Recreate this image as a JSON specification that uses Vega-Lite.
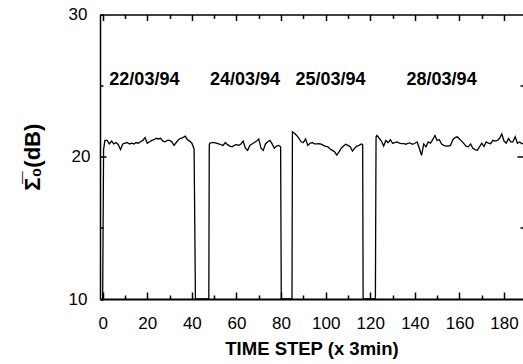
{
  "$schema": "https://vega.github.io/schema/vega-lite/v6.json",
  "width": 423,
  "height": 284.5,
  "autosize": "none",
  "padding": {"left": 100, "right": 0, "top": 14.5, "bottom": 65},
  "background": "white",
  "config": {
    "view": {"stroke": null},
    "font": "Liberation Sans",
    "axis": {"grid": false, "domainColor": "black", "tickColor": "black", "labelColor": "black", "titleColor": "black", "labelFont": "Liberation Sans", "titleFont": "Liberation Sans"}
  },
  "datasets": {
    "series": [
      {"t": 0, "v": 10}, {"t": 0.4, "v": 20.5}, {"t": 1, "v": 21.15}, {"t": 2, "v": 21.15}, {"t": 3, "v": 20.9}, {"t": 4, "v": 21.1}, {"t": 5, "v": 20.9}, {"t": 6, "v": 21.0}, {"t": 7, "v": 20.85}, {"t": 8, "v": 20.5}, {"t": 9, "v": 20.9}, {"t": 10, "v": 20.95}, {"t": 11, "v": 21.0}, {"t": 12, "v": 20.9}, {"t": 13, "v": 20.95}, {"t": 14, "v": 20.9}, {"t": 15, "v": 21.0}, {"t": 16, "v": 20.95}, {"t": 17, "v": 21.05}, {"t": 18, "v": 21.15}, {"t": 19, "v": 21.35}, {"t": 20, "v": 20.95}, {"t": 21, "v": 21.05}, {"t": 22, "v": 21.15}, {"t": 23, "v": 21.2}, {"t": 24, "v": 21.3}, {"t": 25, "v": 21.25}, {"t": 26, "v": 21.3}, {"t": 27, "v": 21.1}, {"t": 28, "v": 21.05}, {"t": 29, "v": 21.15}, {"t": 30, "v": 21.15}, {"t": 31, "v": 21.05}, {"t": 32, "v": 20.8}, {"t": 33, "v": 21.0}, {"t": 34, "v": 21.2}, {"t": 35, "v": 21.3}, {"t": 36, "v": 21.35}, {"t": 37, "v": 21.45}, {"t": 38, "v": 21.2}, {"t": 39, "v": 21.1}, {"t": 40, "v": 20.95}, {"t": 41, "v": 20.55}, {"t": 41.6, "v": 10},
      {"t": 47.6, "v": 10}, {"t": 47.8, "v": 20.8}, {"t": 48, "v": 20.95}, {"t": 49, "v": 21.0}, {"t": 50, "v": 21.0}, {"t": 51, "v": 20.95}, {"t": 52, "v": 20.9}, {"t": 53, "v": 20.85}, {"t": 54, "v": 20.8}, {"t": 55, "v": 21.0}, {"t": 56, "v": 20.85}, {"t": 57, "v": 20.75}, {"t": 58, "v": 20.7}, {"t": 59, "v": 20.8}, {"t": 60, "v": 20.85}, {"t": 61, "v": 20.8}, {"t": 62, "v": 20.9}, {"t": 63, "v": 21.1}, {"t": 64, "v": 20.6}, {"t": 65, "v": 20.45}, {"t": 66, "v": 20.8}, {"t": 67, "v": 20.9}, {"t": 68, "v": 21.0}, {"t": 69, "v": 21.1}, {"t": 70, "v": 21.25}, {"t": 71, "v": 20.6}, {"t": 72, "v": 20.45}, {"t": 73, "v": 20.9}, {"t": 74, "v": 21.05}, {"t": 75, "v": 21.15}, {"t": 76, "v": 20.9}, {"t": 77, "v": 20.6}, {"t": 78, "v": 20.75}, {"t": 79, "v": 20.8}, {"t": 79.8, "v": 20.7}, {"t": 80.1, "v": 10},
      {"t": 84.9, "v": 10}, {"t": 85.1, "v": 21.75}, {"t": 86, "v": 21.65}, {"t": 87, "v": 21.5}, {"t": 88, "v": 21.3}, {"t": 89, "v": 21.05}, {"t": 90, "v": 21.0}, {"t": 91, "v": 21.25}, {"t": 92, "v": 20.8}, {"t": 93, "v": 20.95}, {"t": 94, "v": 21.0}, {"t": 95, "v": 20.9}, {"t": 96, "v": 20.9}, {"t": 97, "v": 20.92}, {"t": 98, "v": 20.88}, {"t": 99, "v": 20.8}, {"t": 100, "v": 20.73}, {"t": 101, "v": 20.7}, {"t": 102, "v": 20.55}, {"t": 103, "v": 20.45}, {"t": 104, "v": 20.35}, {"t": 105, "v": 20.12}, {"t": 106, "v": 20.35}, {"t": 107, "v": 20.6}, {"t": 108, "v": 20.75}, {"t": 109, "v": 20.88}, {"t": 110, "v": 20.8}, {"t": 111, "v": 20.7}, {"t": 112, "v": 20.4}, {"t": 113, "v": 20.6}, {"t": 114, "v": 20.75}, {"t": 115, "v": 20.8}, {"t": 116, "v": 20.9}, {"t": 116.6, "v": 20.85}, {"t": 116.8, "v": 10},
      {"t": 122.3, "v": 10}, {"t": 122.6, "v": 21.4}, {"t": 123, "v": 21.5}, {"t": 124, "v": 21.3}, {"t": 125, "v": 21.1}, {"t": 126, "v": 20.75}, {"t": 127, "v": 21.15}, {"t": 128, "v": 20.98}, {"t": 129, "v": 21.2}, {"t": 130, "v": 20.95}, {"t": 131, "v": 21.0}, {"t": 132, "v": 21.04}, {"t": 133, "v": 20.96}, {"t": 134, "v": 20.92}, {"t": 135, "v": 20.92}, {"t": 136, "v": 20.88}, {"t": 137, "v": 20.96}, {"t": 138, "v": 20.96}, {"t": 139, "v": 20.88}, {"t": 140, "v": 20.95}, {"t": 141, "v": 21.04}, {"t": 142, "v": 20.6}, {"t": 143, "v": 20.1}, {"t": 144, "v": 20.9}, {"t": 145, "v": 20.7}, {"t": 146, "v": 21.04}, {"t": 147, "v": 20.96}, {"t": 148, "v": 21.2}, {"t": 149, "v": 21.5}, {"t": 150, "v": 21.15}, {"t": 151, "v": 21.2}, {"t": 152, "v": 20.9}, {"t": 153, "v": 20.8}, {"t": 154, "v": 20.75}, {"t": 155, "v": 20.75}, {"t": 156, "v": 20.8}, {"t": 157, "v": 21.2}, {"t": 158, "v": 21.35}, {"t": 159, "v": 21.4}, {"t": 160, "v": 21.25}, {"t": 161, "v": 21.1}, {"t": 162, "v": 20.92}, {"t": 163, "v": 20.75}, {"t": 164, "v": 20.7}, {"t": 165, "v": 20.9}, {"t": 166, "v": 20.6}, {"t": 167, "v": 20.5}, {"t": 168, "v": 20.45}, {"t": 169, "v": 20.7}, {"t": 170, "v": 20.95}, {"t": 171, "v": 20.72}, {"t": 172, "v": 21.04}, {"t": 173, "v": 20.95}, {"t": 174, "v": 20.92}, {"t": 175, "v": 21.15}, {"t": 176, "v": 21.1}, {"t": 177, "v": 21.15}, {"t": 178, "v": 21.3}, {"t": 179, "v": 21.6}, {"t": 180, "v": 21.1}, {"t": 181, "v": 20.96}, {"t": 182, "v": 21.28}, {"t": 183, "v": 21.05}, {"t": 184, "v": 21.05}, {"t": 185, "v": 21.4}, {"t": 186, "v": 20.95}, {"t": 187, "v": 21.04}, {"t": 188, "v": 20.92}, {"t": 188.5, "v": 20.95}
    ],
    "dates": [
      {"t": 18.7, "v": 25.4, "label": "22/03/94"},
      {"t": 63.8, "v": 25.4, "label": "24/03/94"},
      {"t": 102.2, "v": 25.4, "label": "25/03/94"},
      {"t": 152, "v": 25.4, "label": "28/03/94"}
    ]
  },
  "layer": [
    {
      "data": {"name": "series"},
      "mark": {"type": "line", "color": "black", "strokeWidth": 1.3, "clip": true, "interpolate": "linear"},
      "encoding": {
        "x": {
          "field": "t", "type": "quantitative",
          "scale": {"domain": [-1.2, 188.5], "nice": false, "zero": false},
          "axis": {
            "orient": "bottom",
            "values": [0, 10, 20, 30, 40, 50, 60, 70, 80, 90, 100, 110, 120, 130, 140, 150, 160, 170, 180],
            "labelExpr": "datum.value % 20 === 0 ? datum.label : ''",
            "labelFontSize": 17, "labelPadding": 23, "labelFlush": false,
            "tickSize": {"condition": {"test": "datum.value % 20 === 0", "value": -7}, "value": -4},
            "tickWidth": 1.5, "domainWidth": 2,
            "title": "TIME STEP (x 3min)", "titleFontSize": 18.5, "titleFontWeight": "bold", "titlePadding": 8
          }
        },
        "y": {
          "field": "v", "type": "quantitative",
          "scale": {"domain": [10, 30], "nice": false, "zero": false},
          "axis": {
            "orient": "left",
            "values": [10, 15, 20, 25, 30],
            "labelExpr": "datum.value % 10 === 0 ? datum.label : ''",
            "labelFontSize": 17, "labelPadding": 16, "labelFlush": false,
            "tickSize": {"condition": {"test": "datum.value === 20", "value": -6}, "value": -3},
            "tickWidth": 1.5, "domainWidth": 1.5,
            "title": "Σ̅₀(dB)", "titleFontSize": 22, "titleFontWeight": "bold", "titlePadding": 24
          }
        }
      }
    },
    {
      "data": {"name": "dates"},
      "mark": {"type": "text", "fontSize": 18, "fontWeight": "bold", "color": "black", "font": "Liberation Sans"},
      "encoding": {
        "x": {"field": "t", "type": "quantitative", "scale": {"domain": [-1.2, 188.5], "nice": false, "zero": false},
          "axis": {"orient": "top", "values": [0, 10, 20, 30, 40, 50, 60, 70, 80, 90, 100, 110, 120, 130, 140, 150, 160, 170, 180], "labels": false, "title": null,
            "tickSize": {"condition": {"test": "datum.value % 20 === 0", "value": -6}, "value": -4}, "tickWidth": 1.5, "domainWidth": 1.5}},
        "y": {"field": "v", "type": "quantitative", "scale": {"domain": [10, 30], "nice": false, "zero": false},
          "axis": {"orient": "right", "values": [15, 20, 25], "labels": false, "title": null, "domain": false,
            "tickSize": {"condition": {"test": "datum.value === 20", "value": -6}, "value": -3}, "tickWidth": 1.5}},
        "text": {"field": "label"}
      }
    }
  ],
  "resolve": {"axis": {"x": "independent", "y": "independent"}}
}
